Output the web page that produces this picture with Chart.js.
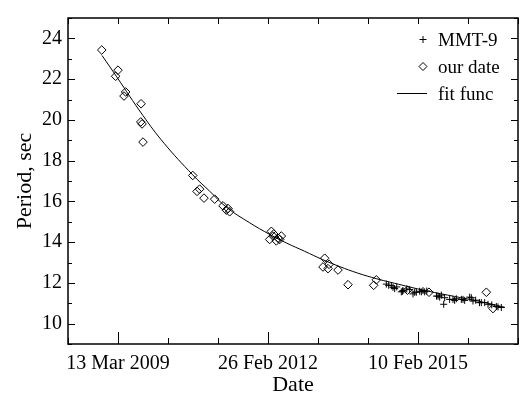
<!DOCTYPE html>
<html>
<head>
<meta charset="utf-8">
<title>Period vs Date</title>
<script src="https://cdn.jsdelivr.net/npm/chart.js@4.4.1/dist/chart.umd.min.js"></script>
<style>
  html, body { margin: 0; padding: 0; background: #fff; }
  #wrap { width: 528px; height: 396px; }
</style>
</head>
<body>
<div id="wrap"><canvas id="periodChart" width="528" height="396"></canvas></div>
<script>
// Dates are MJD (days)
const xTickMJD = [54903, 55983, 57063];
const xTickLabels = ['13 Mar 2009', '26 Feb 2012', '10 Feb 2015'];
const yTickValues = [10, 12, 14, 16, 18, 20, 22, 24];

// MMT-9 measurements
const mmtDate = [56835, 56852, 56871, 56883, 56895, 56910, 56943, 56951, 56955, 56982,
                 57003, 57027, 57039, 57051, 57075, 57087, 57099, 57111, 57126, 57196,
                 57207, 57219, 57231, 57248, 57255, 57291, 57315, 57327, 57339, 57375,
                 57387, 57399, 57435, 57447, 57459, 57478, 57506, 57519, 57543, 57567,
                 57594, 57627, 57639, 57663];
const mmtPeriod = [11.94, 11.88, 11.86, 11.78, 11.72, 11.80, 11.56, 11.59, 11.62, 11.70,
                   11.67, 11.46, 11.54, 11.54, 11.59, 11.56, 11.62, 11.56, 11.60, 11.35,
                   11.35, 11.30, 11.40, 10.95, 11.27, 11.19, 11.19, 11.14, 11.22, 11.19,
                   11.19, 11.14, 11.30, 11.27, 11.11, 11.15, 11.03, 11.03, 11.03, 10.95,
                   10.92, 10.84, 10.82, 10.79];

// our measurements
const ourDate = [54786, 54903, 54886, 54958, 54946, 55069, 55067, 55076, 55083, 55441,
                 55491, 55472, 55522, 55599, 55659, 55695, 55707, 55683, 56007, 55995,
                 56019, 56079, 56043, 56067, 56055, 56024, 56391, 56379, 56415, 56423,
                 56487, 56559, 56763, 56744, 56987, 57142, 57555, 57603];
const ourPeriod = [23.43, 22.44, 22.14, 21.37, 21.17, 20.79, 19.90, 19.80, 18.91, 17.27,
                   16.60, 16.49, 16.16, 16.11, 15.78, 15.65, 15.49, 15.57, 14.53, 14.13,
                   14.30, 14.30, 14.06, 14.13, 14.20, 14.40, 13.21, 12.78, 12.70, 12.91,
                   12.63, 11.91, 12.15, 11.88, 11.64, 11.54, 11.54, 10.74];

// fit function
const fitDate = [54788, 54893, 55082, 55235, 55441, 55563, 55686, 55851, 55995, 56118,
                 56247, 56377, 56499, 56629, 56766, 56859, 57090, 57277, 57457, 57580, 57688];
const fitPeriod = [23.16, 22.12, 20.22, 18.85, 17.30, 16.50, 15.70, 14.95, 14.38, 13.95,
                   13.55, 13.14, 12.80, 12.48, 12.20, 12.04, 11.66, 11.40, 11.16, 10.98, 10.80];

const xMin = 54543, xMax = 57783;
const fontFamily = '"Liberation Serif", "Times New Roman", serif';

function toPoints(xs, ys) {
    return xs.map((v, i) => ({ x: v, y: ys[i] }));
}

// рамка и засечки внутрь
const frameTicks = {
    id: 'frameTicks',
    afterDatasetsDraw(chart) {
        const { ctx, chartArea: a, scales: { x, y } } = chart;
        ctx.save();
        ctx.strokeStyle = '#000';
        ctx.lineWidth = 1;
        ctx.beginPath();
        for (let v = xMin; v <= xMax; v += 360) {
            const px = Math.round(x.getPixelForValue(v)) + 0.5;
            const major = xTickMJD.includes(v);
            ctx.moveTo(px, a.bottom);
            ctx.lineTo(px, a.bottom - (major ? 12 : 6));
            ctx.moveTo(px, a.top);
            ctx.lineTo(px, a.top + 6);
        }
        for (let v = 9; v <= 25; v++) {
            const py = Math.round(y.getPixelForValue(v)) + 0.5;
            const len = v % 2 === 0 ? 7 : 4;
            ctx.moveTo(a.left, py);
            ctx.lineTo(a.left + len, py);
            ctx.moveTo(a.right, py);
            ctx.lineTo(a.right - len, py);
        }
        ctx.stroke();
        ctx.lineWidth = 1.5;
        ctx.strokeRect(a.left, a.top, a.right - a.left, a.bottom - a.top);
        ctx.restore();
    }
};

// легенда в правом верхнем углу
const cornerLegend = {
    id: 'cornerLegend',
    afterDraw(chart) {
        const { ctx, chartArea: a } = chart;
        const tx = a.right - 80;
        ctx.save();
        ctx.font = '19px ' + fontFamily;
        ctx.fillStyle = '#000';
        ctx.strokeStyle = '#000';
        ctx.lineWidth = 1;
        ctx.textBaseline = 'alphabetic';
        chart.data.datasets.forEach((ds, i) => {
            const base = a.top + 27.5 + i * 27;
            ctx.fillText(ds.label, tx, base);
            const cy = base - 6;
            const cx = tx - 15;
            ctx.beginPath();
            if (ds.pointStyle === 'cross') {
                ctx.moveTo(cx - 3.5, cy); ctx.lineTo(cx + 3.5, cy);
                ctx.moveTo(cx, cy - 3.5); ctx.lineTo(cx, cy + 3.5);
            } else if (ds.pointStyle === 'rectRot') {
                ctx.moveTo(cx, cy - 4); ctx.lineTo(cx + 4, cy);
                ctx.lineTo(cx, cy + 4); ctx.lineTo(cx - 4, cy);
                ctx.closePath();
            } else {
                ctx.moveTo(tx - 41, cy); ctx.lineTo(tx - 11, cy);
            }
            ctx.stroke();
        });
        ctx.restore();
    }
};

const ctx = document.getElementById('periodChart').getContext('2d');
const periodChart = new Chart(ctx, {
    type: 'scatter',
    data: {
        datasets: [
            {
                label: 'MMT-9',
                data: toPoints(mmtDate, mmtPeriod),
                pointStyle: 'cross',
                pointRadius: 3.5,
                borderColor: '#000',
                borderWidth: 1,
                showLine: false
            },
            {
                label: 'our date',
                data: toPoints(ourDate, ourPeriod),
                pointStyle: 'rectRot',
                pointRadius: 4.3,
                borderColor: '#000',
                backgroundColor: 'rgba(0,0,0,0)',
                borderWidth: 1,
                showLine: false
            },
            {
                label: 'fit func',
                data: toPoints(fitDate, fitPeriod),
                showLine: true,
                pointRadius: 0,
                borderColor: '#000',
                borderWidth: 1,
                tension: 0.4,
                fill: false
            }
        ]
    },
    options: {
        responsive: false,
        animation: false,
        layout: { padding: { top: 10, right: 10, left: 0, bottom: 0 } },
        plugins: {
            legend: { display: false },
            tooltip: { enabled: false }
        },
        scales: {
            x: {
                type: 'linear',
                min: xMin,
                max: xMax,
                afterBuildTicks: axis => {
                    axis.ticks = xTickMJD.map(v => ({ value: v }));
                },
                afterFit: scale => { scale.height = 52; },
                grid: { display: false, drawTicks: false },
                border: { display: false },
                ticks: {
                    autoSkip: false,
                    maxRotation: 0,
                    padding: 8,
                    color: '#000',
                    font: { family: fontFamily, size: 20 },
                    callback: value => xTickLabels[xTickMJD.indexOf(value)]
                },
                title: {
                    display: true,
                    text: 'Date',
                    color: '#000',
                    font: { family: fontFamily, size: 22, lineHeight: 1.0 },
                    padding: { top: 0, bottom: 0 }
                }
            },
            y: {
                min: 9,
                max: 25,
                afterBuildTicks: axis => {
                    axis.ticks = yTickValues.map(v => ({ value: v }));
                },
                afterFit: scale => { scale.width = 68; },
                grid: { display: false, drawTicks: false },
                border: { display: false },
                ticks: {
                    padding: 6,
                    color: '#000',
                    font: { family: fontFamily, size: 20 }
                },
                title: {
                    display: true,
                    text: 'Period, sec',
                    color: '#000',
                    font: { family: fontFamily, size: 22 },
                    padding: { top: 12, bottom: 0 }
                }
            }
        }
    },
    plugins: [frameTicks, cornerLegend]
});
</script>
</body>
</html>
